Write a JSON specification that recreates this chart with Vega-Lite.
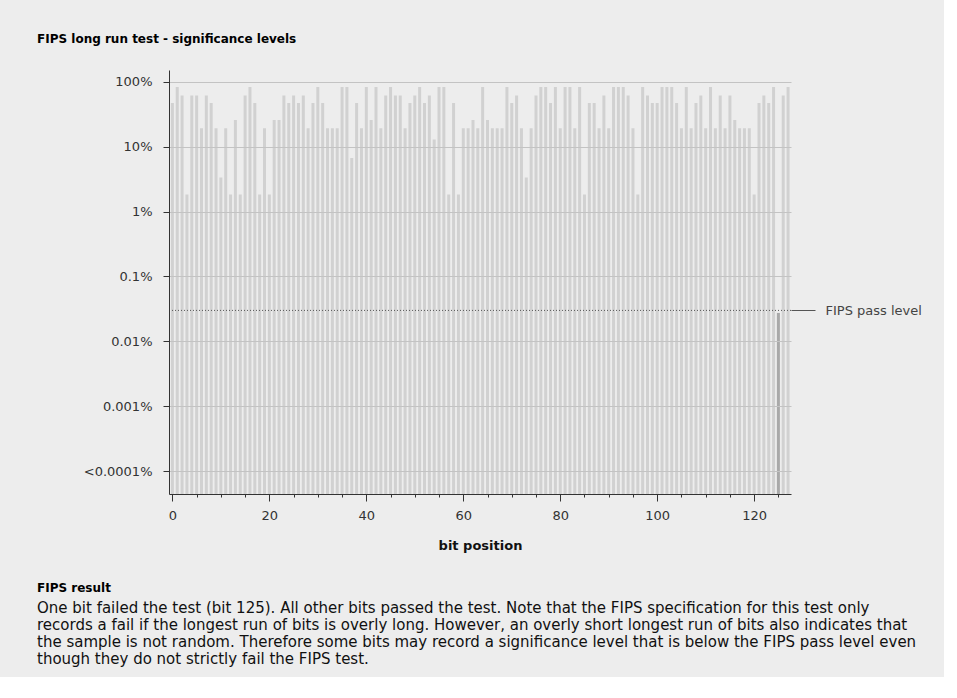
{
  "$schema": "https://vega.github.io/schema/vega-lite/v6.json",
  "background": "#ededed",
  "padding": {"left": 37, "top": 33, "right": 22, "bottom": 10},
  "config": {"view": {"stroke": null}, "font": "DejaVu Sans"},
  "spacing": 30,
  "vconcat": [
    {
      "title": {"text": "FIPS long run test - significance levels", "anchor": "start", "frame": "group", "dx": -132, "fontSize": 12, "fontWeight": "bold", "font": "DejaVu Sans", "color": "#000000", "offset": 24},
      "width": 622,
      "height": 424,
      "layer": [
        {
          "data": {"values": [
            {"bit":0,"significance":47.5,"status":"pass"},{"bit":1,"significance":83.5,"status":"pass"},{"bit":2,"significance":62,"status":"pass"},{"bit":3,"significance":1.84,"status":"pass"},
            {"bit":4,"significance":62,"status":"pass"},{"bit":5,"significance":62,"status":"pass"},{"bit":6,"significance":19.3,"status":"pass"},{"bit":7,"significance":62,"status":"pass"},
            {"bit":8,"significance":47.5,"status":"pass"},{"bit":9,"significance":19.3,"status":"pass"},{"bit":10,"significance":3.36,"status":"pass"},{"bit":11,"significance":19.3,"status":"pass"},
            {"bit":12,"significance":1.84,"status":"pass"},{"bit":13,"significance":26,"status":"pass"},{"bit":14,"significance":1.84,"status":"pass"},{"bit":15,"significance":62,"status":"pass"},
            {"bit":16,"significance":83.5,"status":"pass"},{"bit":17,"significance":47.5,"status":"pass"},{"bit":18,"significance":1.84,"status":"pass"},{"bit":19,"significance":19.3,"status":"pass"},
            {"bit":20,"significance":1.84,"status":"pass"},{"bit":21,"significance":26,"status":"pass"},{"bit":22,"significance":26,"status":"pass"},{"bit":23,"significance":62,"status":"pass"},
            {"bit":24,"significance":47.5,"status":"pass"},{"bit":25,"significance":62,"status":"pass"},{"bit":26,"significance":47.5,"status":"pass"},{"bit":27,"significance":62,"status":"pass"},
            {"bit":28,"significance":19.3,"status":"pass"},{"bit":29,"significance":47.5,"status":"pass"},{"bit":30,"significance":83.5,"status":"pass"},{"bit":31,"significance":47.5,"status":"pass"},
            {"bit":32,"significance":19.3,"status":"pass"},{"bit":33,"significance":19.3,"status":"pass"},{"bit":34,"significance":19.3,"status":"pass"},{"bit":35,"significance":83.5,"status":"pass"},
            {"bit":36,"significance":83.5,"status":"pass"},{"bit":37,"significance":6.7,"status":"pass"},{"bit":38,"significance":47.5,"status":"pass"},{"bit":39,"significance":19.3,"status":"pass"},
            {"bit":40,"significance":83.5,"status":"pass"},{"bit":41,"significance":26,"status":"pass"},{"bit":42,"significance":83.5,"status":"pass"},{"bit":43,"significance":19.3,"status":"pass"},
            {"bit":44,"significance":62,"status":"pass"},{"bit":45,"significance":83.5,"status":"pass"},{"bit":46,"significance":62,"status":"pass"},{"bit":47,"significance":62,"status":"pass"},
            {"bit":48,"significance":19.3,"status":"pass"},{"bit":49,"significance":47.5,"status":"pass"},{"bit":50,"significance":62,"status":"pass"},{"bit":51,"significance":83.5,"status":"pass"},
            {"bit":52,"significance":47.5,"status":"pass"},{"bit":53,"significance":62,"status":"pass"},{"bit":54,"significance":13,"status":"pass"},{"bit":55,"significance":83.5,"status":"pass"},
            {"bit":56,"significance":83.5,"status":"pass"},{"bit":57,"significance":1.84,"status":"pass"},{"bit":58,"significance":47.5,"status":"pass"},{"bit":59,"significance":1.84,"status":"pass"},
            {"bit":60,"significance":19.3,"status":"pass"},{"bit":61,"significance":19.3,"status":"pass"},{"bit":62,"significance":26,"status":"pass"},{"bit":63,"significance":19.3,"status":"pass"},
            {"bit":64,"significance":83.5,"status":"pass"},{"bit":65,"significance":26,"status":"pass"},{"bit":66,"significance":19.3,"status":"pass"},{"bit":67,"significance":19.3,"status":"pass"},
            {"bit":68,"significance":19.3,"status":"pass"},{"bit":69,"significance":83.5,"status":"pass"},{"bit":70,"significance":47.5,"status":"pass"},{"bit":71,"significance":62,"status":"pass"},
            {"bit":72,"significance":19.3,"status":"pass"},{"bit":73,"significance":3.36,"status":"pass"},{"bit":74,"significance":19.3,"status":"pass"},{"bit":75,"significance":62,"status":"pass"},
            {"bit":76,"significance":83.5,"status":"pass"},{"bit":77,"significance":83.5,"status":"pass"},{"bit":78,"significance":47.5,"status":"pass"},{"bit":79,"significance":83.5,"status":"pass"},
            {"bit":80,"significance":19.3,"status":"pass"},{"bit":81,"significance":83.5,"status":"pass"},{"bit":82,"significance":83.5,"status":"pass"},{"bit":83,"significance":19.3,"status":"pass"},
            {"bit":84,"significance":83.5,"status":"pass"},{"bit":85,"significance":1.84,"status":"pass"},{"bit":86,"significance":47.5,"status":"pass"},{"bit":87,"significance":47.5,"status":"pass"},
            {"bit":88,"significance":19.3,"status":"pass"},{"bit":89,"significance":62,"status":"pass"},{"bit":90,"significance":19.3,"status":"pass"},{"bit":91,"significance":83.5,"status":"pass"},
            {"bit":92,"significance":83.5,"status":"pass"},{"bit":93,"significance":83.5,"status":"pass"},{"bit":94,"significance":62,"status":"pass"},{"bit":95,"significance":19.3,"status":"pass"},
            {"bit":96,"significance":1.84,"status":"pass"},{"bit":97,"significance":83.5,"status":"pass"},{"bit":98,"significance":62,"status":"pass"},{"bit":99,"significance":47.5,"status":"pass"},
            {"bit":100,"significance":47.5,"status":"pass"},{"bit":101,"significance":83.5,"status":"pass"},{"bit":102,"significance":83.5,"status":"pass"},{"bit":103,"significance":83.5,"status":"pass"},
            {"bit":104,"significance":47.5,"status":"pass"},{"bit":105,"significance":19.3,"status":"pass"},{"bit":106,"significance":83.5,"status":"pass"},{"bit":107,"significance":19.3,"status":"pass"},
            {"bit":108,"significance":47.5,"status":"pass"},{"bit":109,"significance":62,"status":"pass"},{"bit":110,"significance":19.3,"status":"pass"},{"bit":111,"significance":83.5,"status":"pass"},
            {"bit":112,"significance":19.3,"status":"pass"},{"bit":113,"significance":62,"status":"pass"},{"bit":114,"significance":19.3,"status":"pass"},{"bit":115,"significance":62,"status":"pass"},
            {"bit":116,"significance":26,"status":"pass"},{"bit":117,"significance":19.3,"status":"pass"},{"bit":118,"significance":19.3,"status":"pass"},{"bit":119,"significance":19.3,"status":"pass"},
            {"bit":120,"significance":1.84,"status":"pass"},{"bit":121,"significance":47.5,"status":"pass"},{"bit":122,"significance":62,"status":"pass"},{"bit":123,"significance":47.5,"status":"pass"},
            {"bit":124,"significance":83.5,"status":"pass"},{"bit":125,"significance":0.0274,"status":"fail"},{"bit":126,"significance":62,"status":"pass"},{"bit":127,"significance":83.5,"status":"pass"}
          ]},
          "mark": {"type": "bar", "size": 3},
          "encoding": {
            "x": {
              "field": "bit", "type": "quantitative",
              "scale": {"domain": [-0.7, 127.6], "nice": false, "zero": false, "padding": 0},
              "axis": {
                "values": [0,5,10,15,20,25,30,35,40,45,50,55,60,65,70,75,80,85,90,95,100,105,110,115,120,125],
                "labelExpr": "datum.value % 20 === 0 ? datum.label : ''",
                "tickSize": {"condition": {"test": "datum.value % 20 === 0", "value": 7}, "value": 3},
                "labelPadding": 8,
                "labelFontSize": 13, "labelColor": "#333333", "labelFlush": false, "labelOverlap": false,
                "title": "bit position", "titleFontSize": 13, "titleFontWeight": "bold", "titleColor": "#111111", "titlePadding": 17,
                "grid": false, "domainColor": "#333333", "tickColor": "#333333", "zindex": 1
              }
            },
            "y": {
              "field": "significance", "type": "quantitative",
              "scale": {"type": "log", "domain": [0.0000442, 153], "nice": false},
              "axis": {
                "values": [100, 10, 1, 0.1, 0.01, 0.001, 0.0001],
                "labelExpr": "datum.value < 0.0002 ? '<0.0001%' : datum.value >= 100 ? '100%' : datum.value >= 10 ? '10%' : datum.value >= 1 ? '1%' : datum.value >= 0.1 ? '0.1%' : datum.value >= 0.01 ? '0.01%' : '0.001%'",
                "title": null, "grid": true, "gridColor": "#c3c3c3", "zindex": 1,
                "tickSize": 6, "tickColor": "#333333", "domainColor": "#333333",
                "labelFontSize": 13, "labelColor": "#333333", "labelPadding": 11
              }
            },
            "y2": {"datum": 0.0000442},
            "color": {"field": "status", "type": "nominal", "scale": {"domain": ["pass", "fail"], "range": ["#d1d1d1", "#a9a9a9"]}, "legend": null}
          }
        },
        {
          "data": {"values": [{"level": 0.03, "label": "FIPS pass level"}]},
          "mark": {"type": "rule", "color": "#555555", "strokeDash": [1, 2], "strokeWidth": 1},
          "encoding": {
            "y": {
              "field": "level", "type": "quantitative",
              "scale": {"type": "log", "domain": [0.0000442, 153], "nice": false},
              "axis": {
                "orient": "right", "values": [0.03], "labelExpr": "'FIPS pass level'",
                "tickSize": 24, "tickColor": "#555555", "domain": false, "grid": false, "title": null,
                "labelFontSize": 13, "labelColor": "#444444", "labelPadding": 10
              }
            }
          }
        }
      ],
      "resolve": {"axis": {"y": "independent"}}
    },
    {
      "title": {"text": "FIPS result", "anchor": "start", "frame": "group", "dx": -132, "fontSize": 12, "fontWeight": "bold", "font": "DejaVu Sans", "color": "#000000", "offset": 4},
      "width": 622,
      "height": {"step": 17},
      "data": {"values": [
        {"line": 1, "text": "One bit failed the test (bit 125). All other bits passed the test. Note that the FIPS specification for this test only"},
        {"line": 2, "text": "records a fail if the longest run of bits is overly long. However, an overly short longest run of bits also indicates that"},
        {"line": 3, "text": "the sample is not random. Therefore some bits may record a significance level that is below the FIPS pass level even"},
        {"line": 4, "text": "though they do not strictly fail the FIPS test."}
      ]},
      "mark": {"type": "text", "align": "left", "baseline": "middle", "dx": -132, "fontSize": 15, "font": "DejaVu Sans", "color": "#111111"},
      "encoding": {
        "x": {"datum": 0, "type": "quantitative", "scale": {"domain": [0, 1]}, "axis": null},
        "y": {"field": "line", "type": "ordinal", "axis": null, "scale": {"type": "point", "padding": 0.5}},
        "text": {"field": "text"}
      }
    }
  ]
}
